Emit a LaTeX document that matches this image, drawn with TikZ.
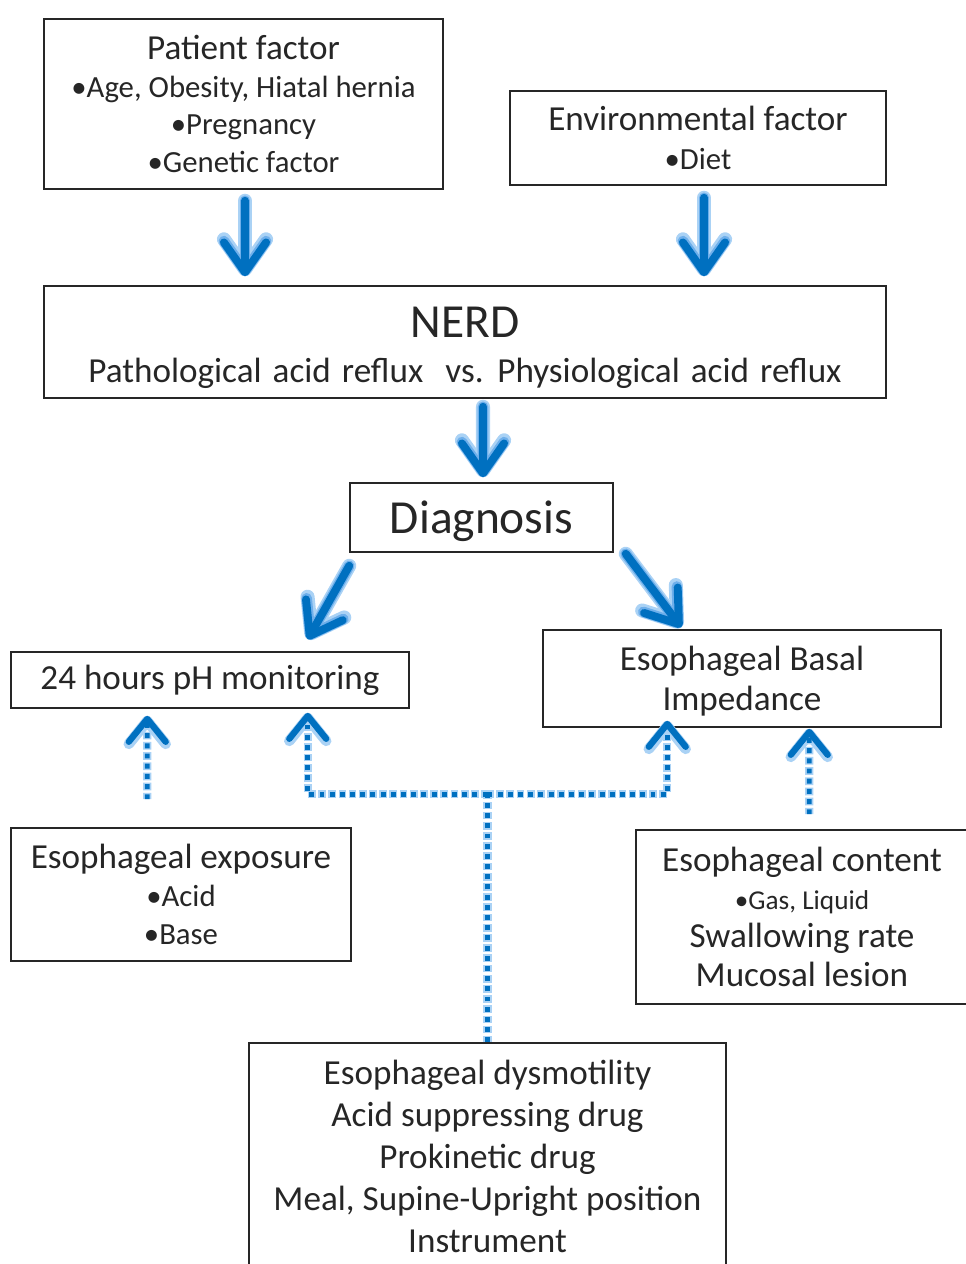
\documentclass[tikz,border=0pt]{standalone}
\usepackage{fontspec}
\setmainfont{Carlito}
\usetikzlibrary{arrows.meta,calc}
\definecolor{flecha}{RGB}{0,112,192}
\definecolor{brillo}{RGB}{170,210,245}
\definecolor{brillofuerte}{RGB}{110,175,235}
\newcommand{\chico}{\fontsize{17.5}{21.5}\selectfont}
\begin{document}
\begin{tikzpicture}[x=0.02cm, y=-0.02cm,
	caja/.style={draw=black!85, line width=0.9pt, align=center, inner sep=0pt, text=black!85, font=\fontsize{20}{21.5}\selectfont},
	punta/.style={-{Straight Barb[length=17pt, width=24pt, line width=#1, line cap=round, line join=round]}},
	puntachica/.style={-{Straight Barb[length=13pt, width=21pt, line width=#1, line cap=round, line join=round]}},
	grande/.style={draw=flecha, line width=4.5pt, line cap=round, punta=4.5pt},
	halo/.style={draw=brillo, line width=8pt, line cap=round, punta=8pt,
		postaction={draw=brillofuerte, line width=6pt, line cap=round, punta=6pt}},
	punteada/.style={draw=flecha, line width=2.8pt, dash pattern=on 2.8pt off 3pt},
	halopunteado/.style={draw=brillo, line width=4.8pt, dash pattern=on 4.4pt off 1.4pt, dash phase=0.8pt},
	halopunta/.style={puntachica=6pt},
	sinpunta/.style={},
	flechapunteada/.style={punteada, puntachica=3.6pt}]
	\useasboundingbox (0,0) rectangle (966,1264);
	% Factores
	\node[caja, minimum width=7.98cm, minimum height=3.4cm] (paciente) at (243.5,104) {Patient factor\\ {\chico •Age, Obesity, Hiatal hernia}\\ {\chico •Pregnancy}\\ {\chico •Genetic factor}};
	\node[caja, minimum width=7.52cm, minimum height=1.88cm] (ambiente) at (698,138) {Environmental factor\\[1pt] {\chico •Diet}};
	\node[caja, minimum width=16.84cm, minimum height=2.24cm] (nerd) at (465,342) {\rule{0pt}{24pt}{\fontsize{27}{30}\selectfont NERD}\\[4pt] \spaceskip=6.3pt Pathological acid reflux \ vs. Physiological acid reflux};
	\node[caja, minimum width=5.26cm, minimum height=1.38cm, font=\fontsize{27}{30}\selectfont] (diag) at (481.5,517.5) {\rule{0pt}{23pt}Diagnosis};
	% Pruebas
	\node[caja, minimum width=7.96cm, minimum height=1.12cm] (ph) at (210,680) {24 hours pH monitoring};
	\node[caja, minimum width=7.96cm, minimum height=1.94cm, font=\fontsize{20}{23}\selectfont] (basal) at (742,678.5) {\rule{0pt}{17pt}Esophageal Basal\\ Impedance};
	% Factores que influyen
	\node[caja, minimum width=6.8cm, minimum height=2.66cm] (expo) at (181,894.5) {Esophageal exposure\\ {\chico •Acid}\\ {\chico •Base}};
	\node[caja, minimum width=6.64cm, minimum height=3.48cm] (contenido) at (802,917) {Esophageal content\\ {\fontsize{15.5}{21}\selectfont •Gas, Liquid}\\ Swallowing rate\\[1pt] Mucosal lesion};
	\node[caja, minimum width=9.54cm, minimum height=4.54cm, font=\fontsize{20}{23.8}\selectfont] (otros) at (487.5,1156.5) {Esophageal dysmotility\\ Acid suppressing drug\\ Prokinetic drug\\ Meal, Supine-Upright position\\ Instrument};

	% Flechas (primero el halo, luego la flecha)
	\foreach \estilo in {halo, grande} {
		\draw[\estilo] ($(paciente.south)+(1.5,11)$) -- ($(paciente.south |- nerd.north)+(1.5,-9)$);
		\draw[\estilo] ($(ambiente.south)+(6,12)$) -- ($(ambiente.south |- nerd.north)+(6,-9)$);
		\draw[\estilo] ($(nerd.south)+(18,8)$) -- ($(diag.north)+(1.5,-5)$);
		\draw[\estilo] ($(diag.south west)+(0,13)$) -- ($(ph.north east)+(-102,-12)$);
		\draw[\estilo] ($(diag.south east)+(12,1)$) -- ($(basal.north west)+(139,-2)$);
	}

	% Lineas punteadas
	\coordinate (cruce) at ($(otros.north)+(0,-248)$);
	\foreach \estilo/\tipo in {halopunteado/halopunta, flechapunteada/sinpunta} {
		\draw[punteada, \estilo, -] (otros.north) -- (cruce);
		\draw[\estilo, \tipo] (cruce) -| ($(ph.south east)+(-102,4)$);
		\draw[\estilo, \tipo] (cruce) -| ($(basal.south west)+(125,-7)$);
		\draw[\estilo, \tipo] ($(expo.north west)+(137,-28)$) -- ($(ph.south west)+(137,7)$);
		\draw[\estilo, \tipo] ($(contenido.north west)+(174,-15)$) -- ($(basal.south west)+(267,1)$);
	}
\end{tikzpicture}
\end{document}
